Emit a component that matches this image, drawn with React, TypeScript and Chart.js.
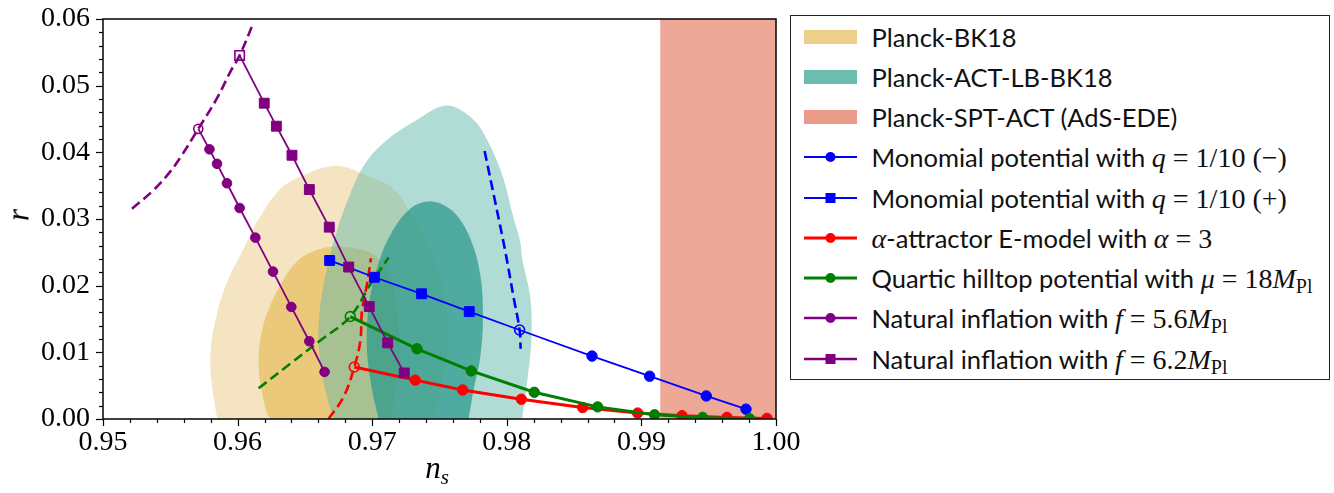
import React, { useEffect, useRef } from "react";
import { Chart, registerables } from "chart.js";

Chart.register(...registerables);

// ---------- axes ----------
const X_TICKS = [0.95, 0.96, 0.97, 0.98, 0.99, 1.0];
const Y_TICKS = [0.0, 0.01, 0.02, 0.03, 0.04, 0.05, 0.06];
const MINOR_STEP = 0.002;

// ---------- contours (n_s, r) ----------
const PBK18_95_NS = [0.95849, 0.95822, 0.95797, 0.9581, 0.95847, 0.95871, 0.95946, 0.95996, 0.9607, 0.96144, 0.96317, 0.96503, 0.96739, 0.96961, 0.97159, 0.97308, 0.97432, 0.97506, 0.97556, 0.97556, 0.97506, 0.97456];
const PBK18_95_R = [0.0, 0.00335, 0.0078, 0.01226, 0.01577, 0.0177, 0.02171, 0.02364, 0.0266, 0.02957, 0.03451, 0.03669, 0.03798, 0.0365, 0.03451, 0.03006, 0.02561, 0.02116, 0.01522, 0.00929, 0.00435, 0.0];
const PBK18_68_NS = [0.96243, 0.96218, 0.96169, 0.96156, 0.96193, 0.96293, 0.96441, 0.966, 0.96763, 0.9701, 0.97134, 0.97184, 0.97209, 0.97184, 0.9713];
const PBK18_68_R = [0.0, 0.00089, 0.00534, 0.00929, 0.01424, 0.01918, 0.02364, 0.02542, 0.02586, 0.02463, 0.02116, 0.01622, 0.01028, 0.00534, 0.0];
const ACT_95_NS = [0.96713, 0.96664, 0.96614, 0.96602, 0.96639, 0.96713, 0.96813, 0.96936, 0.97085, 0.97333, 0.97556, 0.97753, 0.97877, 0.97976, 0.98051, 0.981, 0.98113, 0.98175, 0.98182, 0.9815, 0.98113];
const ACT_95_R = [0.0, 0.00335, 0.00831, 0.01424, 0.02018, 0.0266, 0.03254, 0.03798, 0.04144, 0.0449, 0.04703, 0.0449, 0.04095, 0.03599, 0.03006, 0.0266, 0.02412, 0.01819, 0.01177, 0.00534, 0.0];
const ACT_68_NS = [0.97048, 0.96999, 0.96961, 0.96973, 0.97036, 0.97134, 0.97283, 0.97444, 0.97605, 0.97729, 0.97803, 0.97823, 0.97803, 0.97753, 0.97716];
const ACT_68_R = [0.0, 0.00435, 0.01028, 0.01671, 0.02264, 0.0276, 0.03154, 0.03264, 0.03105, 0.02709, 0.02166, 0.01522, 0.00929, 0.00435, 0.0];
const EDE_NS = [0.9914, 1.0, 1.0, 0.9914];
const EDE_R = [0.0, 0.0, 0.06, 0.06];

// ---------- model predictions ----------
const MONO_MINUS_NS = [0.98095, 0.98633, 0.99061, 0.99482, 0.99777];
const MONO_MINUS_R = [0.01335, 0.00944, 0.00642, 0.00346, 0.00148];
const MONO_PLUS_NS = [0.96684, 0.97016, 0.97367, 0.97721, 0.98095];
const MONO_PLUS_R = [0.02378, 0.02126, 0.01878, 0.01611, 0.01335];
const MONO_DASH_NS = [0.97835, 0.97914, 0.97989, 0.98051, 0.98095, 0.98103];
const MONO_DASH_R = [0.04021, 0.03254, 0.02512, 0.01819, 0.01335, 0.01053];

const EMODEL_NS = [0.96867, 0.9732, 0.97672, 0.98108, 0.98563, 0.98972, 0.99302, 0.99636, 0.99933];
const EMODEL_R = [0.0078, 0.00583, 0.00435, 0.00297, 0.00172, 0.00089, 0.00049, 0.00024, 0.00009];
const EMODEL_DASH_NS = [0.96675, 0.96788, 0.96867, 0.96912, 0.96924, 0.96961, 0.96991];
const EMODEL_DASH_R = [0.0, 0.00335, 0.0078, 0.01177, 0.01622, 0.02018, 0.02412];

const HILLTOP_NS = [0.96837, 0.97333, 0.97736, 0.98204, 0.98675, 0.99098, 0.99455, 0.99804];
const HILLTOP_R = [0.01537, 0.01053, 0.00721, 0.00401, 0.00182, 0.00064, 0.00024, 0.00004];
const HILLTOP_DASH_NS = [0.96156, 0.96392, 0.96614, 0.96837, 0.96986, 0.97122];
const HILLTOP_DASH_R = [0.0046, 0.00831, 0.01177, 0.01537, 0.02018, 0.02423];

const NAT56_NS = [0.95708, 0.95791, 0.95847, 0.95921, 0.96015, 0.96132, 0.96263, 0.96399, 0.96533, 0.96646];
const NAT56_R = [0.04352, 0.04045, 0.03828, 0.03536, 0.03165, 0.0272, 0.02211, 0.01681, 0.01166, 0.00706];
const NAT62_NS = [0.96015, 0.96198, 0.96288, 0.96404, 0.96533, 0.96681, 0.96825, 0.96978, 0.97115, 0.97238];
const NAT62_R = [0.05454, 0.04737, 0.04392, 0.03956, 0.03442, 0.02878, 0.02279, 0.01686, 0.01142, 0.00691];
const NAT_DASH_NS = [0.95215, 0.95364, 0.95475, 0.95574, 0.95708, 0.95847, 0.95946, 0.96015, 0.96119];
const NAT_DASH_R = [0.03154, 0.03412, 0.0365, 0.03921, 0.04352, 0.04812, 0.05208, 0.05454, 0.0595];

// ---------- styles ----------
const BLUE = "#0000ff";
const RED = "#ff0000";
const GREEN = "#008000";
const PURPLE = "#800080";
const TAN_95 = "#f4e4c1";
const TAN_68 = "#eac97a";
const TEAL_95 = "rgba(100,185,172,0.5)";
const TEAL_68 = "rgba(41,153,138,0.72)";
const EDE_FILL = "#eea898";
const NONE = "rgba(0,0,0,0)";
const SERIF = '"Liberation Serif", "DejaVu Serif", serif';
const SANS = 'Lato, "DejaVu Sans", sans-serif';

function pts(xs: number[], ys: number[]) {
  return xs.map((x, i) => ({ x, y: ys[i] }));
}

function region(label: string, xs: number[], ys: number[], color: string, order: number, tension = 0.35) {
  return {
    type: "line",
    label,
    data: pts(xs, ys),
    borderColor: NONE,
    borderWidth: 0,
    backgroundColor: color,
    fill: "shape",
    pointRadius: 0,
    tension,
    order,
  };
}

function dashed(label: string, xs: number[], ys: number[], color: string, order: number) {
  return {
    type: "line",
    label,
    data: pts(xs, ys),
    borderColor: color,
    borderWidth: 2.6,
    borderDash: [10, 5],
    fill: false,
    pointRadius: 0,
    tension: 0.4,
    order,
  };
}

function markerSeries(
  label: string,
  xs: number[],
  ys: number[],
  color: string,
  width: number,
  style: string,
  radius: number,
  openIndex: number,
  hiddenIndex: number,
  order: number
) {
  return {
    type: "line",
    label,
    data: pts(xs, ys),
    borderColor: color,
    borderWidth: width,
    fill: false,
    tension: 0,
    pointStyle: xs.map(() => style),
    pointRadius: xs.map((_, i) => (i === hiddenIndex ? 0 : i === openIndex ? radius * 0.95 : radius)),
    pointBackgroundColor: xs.map((_, i) => (i === openIndex ? NONE : color)),
    pointBorderColor: color,
    pointBorderWidth: xs.map((_, i) => (i === openIndex ? 1.6 : 1)),
    order,
  };
}

const axesPlugin = {
  id: "mplAxes",
  afterDraw(chart: any) {
    const { ctx, chartArea, scales } = chart;
    const { left, right, top, bottom } = chartArea;
    const xs = scales.x;
    const ys = scales.y;
    ctx.save();
    ctx.strokeStyle = "#000";
    ctx.lineWidth = 1.2;
    const drawX = (v: number, len: number) => {
      const p = Math.round(xs.getPixelForValue(v)) + 0.5;
      ctx.beginPath();
      ctx.moveTo(p, bottom);
      ctx.lineTo(p, bottom + len);
      ctx.stroke();
    };
    const drawY = (v: number, len: number) => {
      const p = Math.round(ys.getPixelForValue(v)) + 0.5;
      ctx.beginPath();
      ctx.moveTo(left, p);
      ctx.lineTo(left - len, p);
      ctx.stroke();
    };
    for (let i = 0; i < X_TICKS.length - 1; i++) {
      for (let k = 1; k < 5; k++) drawX(X_TICKS[i] + k * MINOR_STEP, 4);
    }
    for (let i = 0; i < Y_TICKS.length - 1; i++) {
      for (let k = 1; k < 5; k++) drawY(Y_TICKS[i] + k * MINOR_STEP, 4);
    }
    X_TICKS.forEach((v) => drawX(v, 7));
    Y_TICKS.forEach((v) => drawY(v, 7));
    ctx.lineWidth = 1.6;
    ctx.strokeStyle = "#111";
    ctx.strokeRect(left, top, right - left, bottom - top);
    ctx.restore();
  },
};

function M({ children }: { children: React.ReactNode }) {
  return <span style={{ fontFamily: SERIF, fontSize: 28 }}>{children}</span>;
}
function I({ children }: { children: React.ReactNode }) {
  return <span style={{ fontFamily: SERIF, fontSize: 28, fontStyle: "italic" }}>{children}</span>;
}
function Pl() {
  return <span style={{ fontFamily: SERIF, fontSize: 20, position: "relative", top: 5 }}>Pl</span>;
}

const LEGEND_ROWS: { kind: string; color: string; width?: number; marker?: string; label: React.ReactNode }[] = [
  { kind: "patch", color: "#edcf8a", label: "Planck-BK18" },
  { kind: "patch", color: "#6cbcb0", label: "Planck-ACT-LB-BK18" },
  { kind: "patch", color: "#eb9c88", label: "Planck-SPT-ACT (AdS-EDE)" },
  {
    kind: "line", color: BLUE, width: 2.2, marker: "circle",
    label: (<>Monomial potential with <I>q</I><M> = 1/10 (−)</M></>),
  },
  {
    kind: "line", color: BLUE, width: 2.2, marker: "square",
    label: (<>Monomial potential with <I>q</I><M> = 1/10 (+)</M></>),
  },
  {
    kind: "line", color: RED, width: 3, marker: "circle",
    label: (<><I>α</I>-attractor E-model with <I>α</I><M> = 3</M></>),
  },
  {
    kind: "line", color: GREEN, width: 3, marker: "circle",
    label: (<>Quartic hilltop potential with <I>μ</I><M> = 18</M><I>M</I><Pl /></>),
  },
  {
    kind: "line", color: PURPLE, width: 2.4, marker: "circle",
    label: (<>Natural inflation with <I>f</I><M> = 5.6</M><I>M</I><Pl /></>),
  },
  {
    kind: "line", color: PURPLE, width: 2.4, marker: "square",
    label: (<>Natural inflation with <I>f</I><M> = 6.2</M><I>M</I><Pl /></>),
  },
];

function Legend() {
  const boxLeft = 790;
  const boxTop = 15;
  const border = 1.5;
  const firstRow = 37;
  const rowGap = 40.25;
  return (
    <div
      style={{
        position: "absolute",
        left: boxLeft,
        top: boxTop,
        width: 540,
        height: 364.5,
        border: `${border}px solid #222`,
        boxSizing: "border-box",
        background: "#fff",
      }}
    >
      {LEGEND_ROWS.map((row, i) => {
        const cy = firstRow + rowGap * i - boxTop - border;
        return (
          <div key={i}>
            <svg
              width={54}
              height={20}
              style={{ position: "absolute", left: 804 - boxLeft - border, top: cy - 10 }}
            >
              {row.kind === "patch" ? (
                <rect x={0} y={3} width={53} height={14} fill={row.color} />
              ) : (
                <>
                  <line x1={0} y1={10} x2={53} y2={10} stroke={row.color} strokeWidth={row.width} />
                  {row.marker === "circle" ? (
                    <circle cx={26.5} cy={10} r={5} fill={row.color} />
                  ) : (
                    <rect x={21.5} y={5} width={10} height={10} fill={row.color} />
                  )}
                </>
              )}
            </svg>
            <div
              style={{
                position: "absolute",
                left: 872 - boxLeft - border,
                top: cy - 20,
                height: 40,
                lineHeight: "40px",
                whiteSpace: "nowrap",
                fontFamily: SANS,
                fontSize: 25.5,
                color: "#111",
              }}
            >
              {row.label}
            </div>
          </div>
        );
      })}
    </div>
  );
}

export default function App() {
  const ref = useRef<HTMLCanvasElement | null>(null);

  useEffect(() => {
    document.body.style.margin = "0";
    const canvas = ref.current;
    if (!canvas) return;

    const datasets: any[] = [
      markerSeries("Natural inflation f=6.2", NAT62_NS, NAT62_R, PURPLE, 1.8, "rect", 7, 0, -1, 1),
      markerSeries("Natural inflation f=5.6", NAT56_NS, NAT56_R, PURPLE, 1.8, "circle", 4.8, 0, -1, 2),
      markerSeries("Quartic hilltop", HILLTOP_NS, HILLTOP_R, GREEN, 3, "circle", 5.2, 0, -1, 3),
      markerSeries("E-model", EMODEL_NS, EMODEL_R, RED, 3, "circle", 5.2, 0, -1, 4),
      markerSeries("Monomial (+)", MONO_PLUS_NS, MONO_PLUS_R, BLUE, 1.8, "rect", 7, -1, MONO_PLUS_NS.length - 1, 5),
      markerSeries("Monomial (-)", MONO_MINUS_NS, MONO_MINUS_R, BLUE, 1.8, "circle", 5.2, 0, -1, 6),
      dashed("Natural dashed", NAT_DASH_NS, NAT_DASH_R, PURPLE, 7),
      dashed("Hilltop dashed", HILLTOP_DASH_NS, HILLTOP_DASH_R, GREEN, 8),
      dashed("E-model dashed", EMODEL_DASH_NS, EMODEL_DASH_R, RED, 9),
      dashed("Monomial dashed", MONO_DASH_NS, MONO_DASH_R, BLUE, 10),
      region("Planck-SPT-ACT (AdS-EDE)", EDE_NS, EDE_R, EDE_FILL, 20, 0),
      region("Planck-ACT-LB-BK18 68%", ACT_68_NS, ACT_68_R, TEAL_68, 21),
      region("Planck-ACT-LB-BK18 95%", ACT_95_NS, ACT_95_R, TEAL_95, 22),
      region("Planck-BK18 68%", PBK18_68_NS, PBK18_68_R, TAN_68, 23),
      region("Planck-BK18 95%", PBK18_95_NS, PBK18_95_R, TAN_95, 24),
    ];

    const tickFont = { family: SERIF, size: 28, lineHeight: 1.0 };

    const chart = new Chart(canvas, {
      type: "line",
      data: { datasets },
      options: {
        responsive: false,
        animation: false,
        events: [],
        layout: { padding: { top: 15, right: 44, left: 0, bottom: 0 } },
        plugins: {
          legend: { display: false },
          tooltip: { enabled: false },
          filler: { propagate: false },
        },
        scales: {
          x: {
            type: "linear",
            min: 0.95,
            max: 1.0,
            grid: { display: false, drawTicks: true, tickLength: 8 },
            border: { display: false },
            afterBuildTicks: (scale: any) => {
              scale.ticks = X_TICKS.map((v) => ({ value: v }));
            },
            afterFit: (scale: any) => {
              scale.height = 74;
            },
            ticks: {
              autoSkip: false,
              maxRotation: 0,
              padding: 2,
              color: "#000",
              font: tickFont,
              callback: (v: any) => Number(v).toFixed(2),
            },
          },
          y: {
            type: "linear",
            min: 0,
            max: 0.06,
            grid: { display: false, drawTicks: true, tickLength: 8 },
            border: { display: false },
            afterBuildTicks: (scale: any) => {
              scale.ticks = Y_TICKS.map((v) => ({ value: v }));
            },
            afterFit: (scale: any) => {
              scale.width = 103;
            },
            ticks: {
              autoSkip: false,
              padding: 5,
              color: "#000",
              font: tickFont,
              callback: (v: any) => Number(v).toFixed(2),
            },
          },
        },
      },
      plugins: [axesPlugin],
    } as any);

    return () => chart.destroy();
  }, []);

  return (
    <div style={{ position: "relative", width: 1334, height: 493, background: "#fff", overflow: "hidden" }}>
      <canvas
        ref={ref}
        width={820}
        height={493}
        style={{ position: "absolute", left: 0, top: 0, width: 820, height: 493 }}
      />
      <div
        style={{
          position: "absolute",
          left: 18,
          top: 215,
          transform: "translate(-50%, -50%) rotate(-90deg)",
          fontFamily: SERIF,
          fontStyle: "italic",
          fontSize: 31,
          lineHeight: 1,
          color: "#000",
        }}
      >
        r
      </div>
      <div
        style={{
          position: "absolute",
          left: 437,
          top: 467,
          transform: "translate(-50%, -50%)",
          fontFamily: SERIF,
          fontSize: 31,
          lineHeight: 1,
          whiteSpace: "nowrap",
          color: "#000",
        }}
      >
        <span style={{ fontStyle: "italic" }}>n</span>
        <span style={{ fontStyle: "italic", fontSize: 21, position: "relative", top: 6 }}>s</span>
      </div>
      <Legend />
    </div>
  );
}
